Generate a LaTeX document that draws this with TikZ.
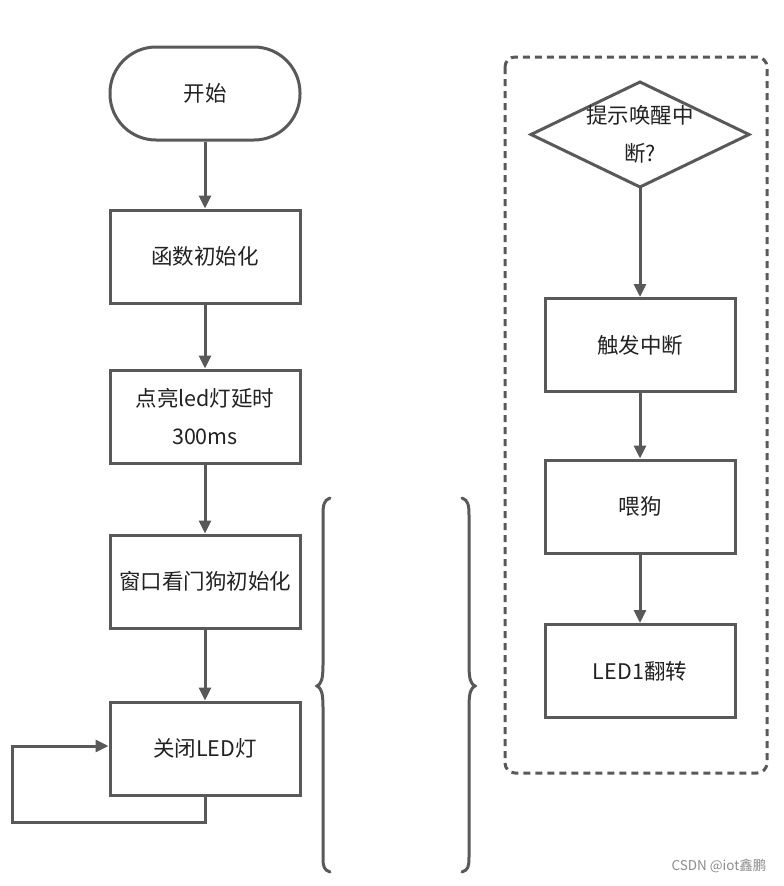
\documentclass[tikz,border=0pt]{standalone}
\usepackage{fontspec}
\setmainfont{Noto Sans CJK SC}
\usetikzlibrary{arrows.meta,shapes.geometric}
\definecolor{ln}{HTML}{595959}
\definecolor{tx}{HTML}{222222}
\tikzset{
  every node/.style={font=\fontsize{21.5}{38}\selectfont, text=tx},
  procbox/.style={draw=ln, line width=3pt, fill=white, minimum width=190pt, minimum height=93pt, inner sep=0pt, align=center},
  termbox/.style={procbox, rounded corners=46pt},
  decbox/.style={draw=ln, line width=3pt, fill=white, diamond, minimum width=218pt, minimum height=105pt, inner sep=0pt, outer sep=0pt},
  conn/.style={draw=ln, line width=3pt, -{Triangle[length=13pt,width=12pt]}},
  brc/.style={draw=ln, line width=3pt, line cap=round},
}
\begin{document}
\begin{tikzpicture}[x=1pt,y=-1pt]
\useasboundingbox (0,0) rectangle (784,886);
% left column
\node[termbox] (start) at (205,93.5) {开始};
\node[procbox] (init) at (205,256.5) {函数初始化};
\node[procbox] (led) at (205,416.5) {点亮led灯延时\\300ms};
\node[procbox] (wdg) at (205,581.5) {窗口看门狗初始化};
\node[procbox] (off) at (205,748.5) {关闭LED灯};
\draw[conn] (start) -- (init);
\draw[conn] (init) -- (led);
\draw[conn] (led) -- (wdg);
\draw[conn] (wdg) -- (off);
\coordinate (lp1) at (205,822);
\coordinate (lp2) at (12,822);
\coordinate (lp3) at (12,746);
\draw[conn] (off.south) -- (lp1) -- (lp2) -- (lp3) -- (off.west |- lp3);
% braces
\draw[brc] (330,498) .. controls (324,500) and (323,505) .. (323,515) -- (323,665)
  .. controls (323,680) and (321,684) .. (317,686)
  .. controls (321,688) and (323,692) .. (323,707) -- (323,857)
  .. controls (323,867) and (324,870) .. (330,872);
\draw[brc] (462,498) .. controls (468,500) and (469,505) .. (469,515) -- (469,665)
  .. controls (469,680) and (471,684) .. (475,686)
  .. controls (471,688) and (469,692) .. (469,707) -- (469,857)
  .. controls (469,867) and (468,870) .. (462,872);
% right group
\draw[ln, line width=3pt, dash pattern=on 7pt off 5pt, rounded corners=10pt] (505,57) rectangle (767,773);
\node[decbox] (dec) at (640,134.5) {};
\node[align=center, inner sep=0pt] (dect) at (640,134) {提示唤醒中\\断?};
\node[procbox] (trig) at (640,345) {触发中断};
\node[procbox] (feed) at (640,506.5) {喂狗};
\node[procbox] (flip) at (640,671) {LED1翻转};
\draw[conn] (dec) -- (trig);
\draw[conn] (trig) -- (feed);
\draw[conn] (feed) -- (flip);
\node[font=\fontsize{13.5}{16}\selectfont, text=black!45] (wm) at (719,866) {CSDN @iot鑫鹏};
\end{tikzpicture}
\end{document}
